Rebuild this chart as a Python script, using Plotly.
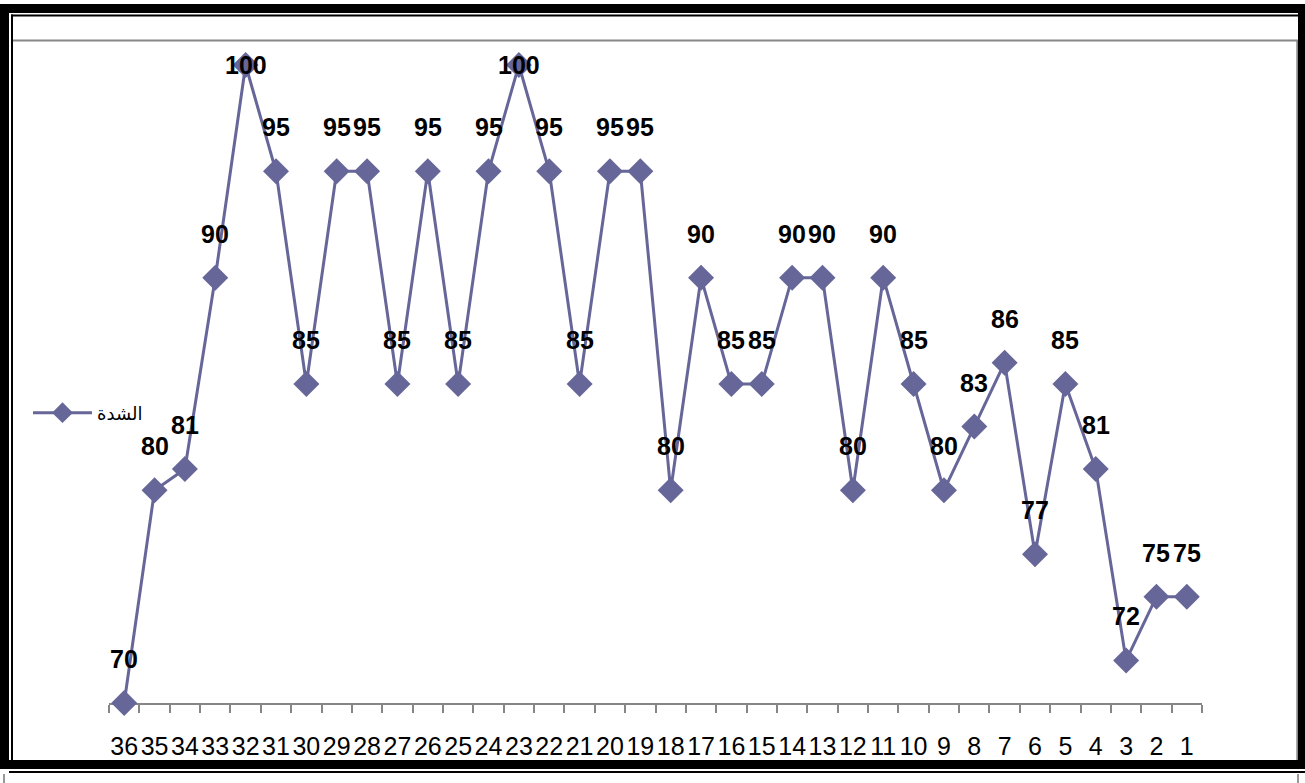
import plotly.graph_objects as go

# ---- data ----
categories = [str(i) for i in range(36, 0, -1)]
values = [70, 80, 81, 90, 100, 95, 85, 95, 95, 85, 95, 85, 95, 100, 95, 85, 95, 95,
          80, 90, 85, 85, 90, 90, 80, 90, 85, 80, 83, 86, 77, 85, 81, 72, 75, 75]
series_name = "الشدة"

# ---- style ----
W, H = 1305, 783
L, R, T, B = 109, 1202, 65, 703
Y_MIN, Y_MAX = 70, 100
COLOR = "#666699"


def px(x):
    return (x - L) / (R - L)


def py(y):
    return (B - y) / (B - T)


fig = go.Figure()
fig.add_trace(go.Scatter(
    x=categories, y=values, mode="lines+markers", name=series_name,
    line=dict(color=COLOR, width=3),
    marker=dict(symbol="diamond", size=20, color=COLOR),
    cliponaxis=False,
))

annotations = []
for i, v in enumerate(values):
    annotations.append(dict(
        x=i, y=v, xref="x", yref="y", text=str(v), showarrow=False,
        yshift=(0 if v >= Y_MAX else 44),
        font=dict(family="Liberation Sans, Arial", size=25, color="black", weight="bold"),
    ))


def band(x0, y0, x1, y1, color):
    return dict(type="rect", xref="paper", yref="paper",
                x0=px(x0), x1=px(x1), y0=py(y0), y1=py(y1),
                fillcolor=color, line=dict(width=0), layer="above")


shapes = [
    band(0, 4, 1305, 13, "black"),
    band(0, 4, 9, 769, "black"),
    band(1298, 4, 1306, 769, "black"),
    band(0, 760, 1306, 769, "black"),
    band(11, 14.5, 1298, 16.5, "black"),
    band(11, 14.5, 13, 760, "black"),
    band(9, 771, 1306, 773, "black"),
    band(13, 39.5, 1298, 41.5, "#888888"),
    band(1296.3, 40, 1298, 760, "#888888"),
    band(3, 774, 5, 783, "#999999"),
    band(1297, 774, 1299, 783, "#999999"),
]

fig.update_layout(
    width=W, height=H,
    margin=dict(l=L, r=W - R, t=T, b=H - B, autoexpand=False),
    paper_bgcolor="white", plot_bgcolor="white",
    showlegend=True,
    legend=dict(x=px(28), y=py(413), xanchor="left", yanchor="middle",
                bgcolor="rgba(0,0,0,0)", itemwidth=59,
                font=dict(family="DejaVu Sans, Liberation Sans, Arial", size=18, color="black")),
    xaxis=dict(type="category", tickmode="linear", dtick=1, tick0=0, tickangle=0,
               range=[-0.5, len(categories) - 0.5], automargin=False,
               tickson="boundaries", ticks="outside", ticklen=8,
               tickwidth=2, tickcolor="#868686", showline=True, linecolor="#868686",
               linewidth=2, showgrid=False, zeroline=False, layer="below traces",
               ticklabelstandoff=20,
               tickfont=dict(family="Liberation Sans, Arial", size=25, color="black")),
    yaxis=dict(range=[Y_MIN, Y_MAX], visible=False, showgrid=False, zeroline=False,
               automargin=False),
    annotations=annotations,
    shapes=shapes,
)

fig.write_html("out.html", config={"displayModeBar": False},
               post_script="document.body.style.margin='0';")
